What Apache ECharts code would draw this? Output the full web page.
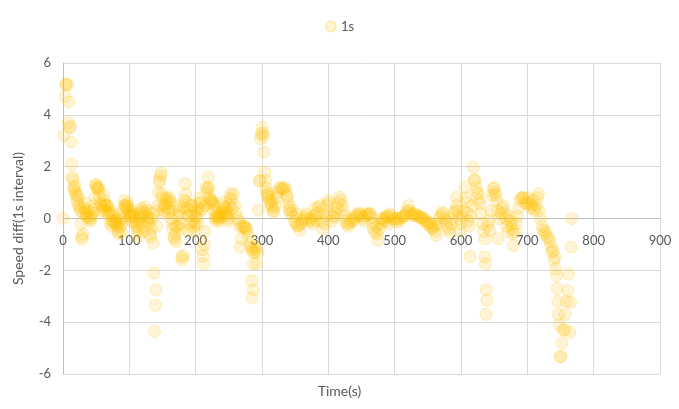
<!DOCTYPE html>
<html>
<head>
<meta charset="utf-8">
<script src="https://cdn.jsdelivr.net/npm/echarts@6/dist/echarts.min.js"></script>
<style>html,body{margin:0;padding:0;background:#fff}#c{width:679px;height:409px}</style>
</head>
<body>
<div id="c"></div>
<script>
const seriesName = '1s';
const xAxisTitle = 'Time(s)';
const yAxisTitle = 'Speed diff(1s interval)';
const xTicks = [0, 100, 200, 300, 400, 500, 600, 700, 800, 900];
const yTicks = [-6, -4, -2, 0, 2, 4, 6];
// [time (s), speed diff]
const points1s = [
[0,0],[1,3.2],[3,4.7],[4,5.15],[5,5.2],[7,5.15],[8,3.7],[9,4.5],[10,3.5],[11,3.55],[12,2.95],[13,2.1],[14,1.6],[15,1.5],[16,1.2],[17,1.1],[18,1.25],[19,1.0],[20,0.9],[21,0.75],[22,0.6],[23,0.85],[24,0.5],[25,0.4],[26,0.3],[27,-0.2],[28,-0.7],[29,-0.8],[30,-0.6],[31,0.2],[32,0.4],[33,0.6],[34,0.3],[35,0.1],[36,0.2],[37,0.05],[38,0.3],[40,0.0],[41,-0.1],[42,0.1],[43,0],[45,0.2],[46,0.5],[47,0.35],[48,0.8],[49,1.3],[50,1.3],[51,1.2],[52,1.15],[53,1.2],[54,1.1],[55,0.85],[56,0.6],[57,0.5],[58,0.3],[60,0.45],[61,0.9],[62,0.7],[63,0.5],[64,0.3],[65,0.5],[66,0.5],[67,0.5],[68,0.2],[69,0.1],[70,0.3],[71,0.2],[72,-0.2],[73,-0.3],[74,-0.1],[75,0.2],[76,0.1],[77,-0.15],[78,-0.2],[79,-0.1],[80,-0.05],[81,-0.2],[82,-0.3],[83,-0.5],[84,-0.6],[85,-0.35],[86,-0.1],[87,0.05],[88,-0.53],[89,-0.2],[90,0],[91,0.3],[92,0.5],[93,0.7],[94,0.5],[95,0.4],[96,0.5],[97,0.6],[98,0.45],[99,0.3],
[100,0.2],[101,0.1],[102,0.05],[103,-0.1],[104,0.15],[105,0.3],[106,0.2],[107,0.1],[108,0.05],[109,-0.2],[110,-0.1],[111,-0.3],[112,-0.5],[113,-0.7],[114,-0.4],[115,-0.2],[116,0],[117,0.2],[118,0.4],[119,0.3],[120,0.1],[121,-0.3],[122,-0.5],[123,0.2],[124,0.45],[125,0.3],[126,0.1],[127,0],[128,-0.1],[129,0.05],[130,-0.2],[131,-0.6],[132,-0.7],[133,-0.4],[134,0],[135,0.2],[136,-0.95],[137,-2.1],[138,-4.35],[139,-3.35],[140,-2.75],[141,-0.3],[142,0.3],[143,0.5],[144,1.0],[145,1.4],[146,1.5],[147,1.65],[148,1.75],[149,0.95],[150,0.8],[151,0.5],[152,0.3],[153,0.2],[154,0.5],[155,0.7],[156,0.8],[157,0.6],[158,0.4],[159,0.25],[160,0.7],[161,0.8],[162,0.6],[163,0.3],[164,0.0],[165,-0.2],[166,-0.4],[167,-0.7],[168,-0.8],[169,-0.6],[170,-0.3],[171,-0.9],[172,-0.3],[173,0.1],[174,0.3],[175,0.5],[176,0.2],[177,-0.2],[178,-0.4],[179,-1.5],[180,-1.6],[181,-1.43],[182,0.45],[183,0.7],[184,1.35],[185,0.95],[186,0.65],[187,0.4],[188,0.1],[189,-0.46],[190,-0.2],[191,0.1],[192,0.3],[193,0.5],[194,0.5],[195,0.2],[196,-0.1],[197,-0.3],[198,-0.5],[199,-0.2],
[200,0.1],[201,0.3],[202,0.05],[203,-0.2],[204,0.4],[205,0.6],[206,0.8],[207,0.6],[208,0.3],[209,0.37],[210,-1.2],[211,-1.45],[212,-1.75],[213,-1.0],[214,-0.5],[215,0.5],[216,1.2],[217,1.0],[218,1.15],[219,1.6],[220,1.2],[221,0.8],[222,0.6],[223,0.7],[224,0.7],[225,0.65],[226,0.6],[227,0.5],[228,0.3],[229,0.1],[230,0],[231,-0.1],[232,0.05],[233,0.2],[234,0.1],[235,0],[236,-0.1],[237,0.05],[238,0.2],[239,0.1],[240,0.3],[241,0.5],[242,0.63],[243,0.4],[244,0.2],[245,0.4],[246,0.2],[247,0.1],[248,0.0],[249,-0.1],[250,0.2],[251,0.5],[252,0.8],[253,0.95],[254,0.7],
[255,0.4],[257,0.95],[259,0.5],[261,0.2],[263,0.0],[265,-0.1],[267,-0.33],[267,-1.1],[269,-0.78],[270,-0.3],[272,-0.33],[274,-0.3],[275,-0.35],[276,-0.4],[278,-0.5],[280,-0.7],[282,-0.98],[284,-1.1],[284.5,-2.4],[285,-1.2],[286,-1.3],[287,-2.75],[285,-3.06],[287,-1.75],[289,-1.3],[290,-1.2],[291,-1.1],[292,-1.75],[294,-1.3],[294.5,0.33],[296,1.45],[297,1.47],[298,3.08],[299,3.27],[300,3.53],[301,3.3],[302,3.17],[303,2.56],[304,1.79],[305,1.47],[306,1.2],[307,1.0],[308,0.9],[309,0.82],[310,0.95],[311,0.7],[312,0.6],[314,0.5],[315,0.7],[316,0.4],[317,0.24],[318,0.3],[320,0.5],[322,0.8],[324,1.0],[326,1.15],[328,1.2],[330,1.15],[332,1.15],[334,1.2],[336,1.1],[337,0.9],[338,0.82],[340,0.6],[341,0.33],[342,0.44],[343,0.2],[345,0.3],[347,0.1],[349,-0.1],[351,-0.2],[352,0.18],[354,-0.27],[355,-0.3],[357,-0.46],[359,-0.2],[361,-0.1],[363,0.0],[365,0.1],[367,0.18],[369,0.0],[371,-0.1],[373,0.0],[375,-0.1],[377,-0.2],[379,0.1],[380,0.4],[382,-0.08],[383,0.2],[385,0.44],[386,0.2],[388,0.5],[390,-0.1],[392,-0.4],[394,-0.2],[396,0.1],[398,0.5],
[400,0.7],[401,0.6],[403,0.2],[405,-0.1],[407,0.1],[409,0.05],[411,0.2],[413,0.4],[415,0.6],[417,0.82],[419,0.7],[421,0.5],[422,0.31],[424,0.1],[426,-0.1],[428,-0.2],[430,-0.3],[432,-0.2],[434,-0.1],[436,0.0],[438,-0.1],[440,0.05],[442,0.15],[444,0.1],[446,0.2],[448,0.18],[450,0.1],[452,0.0],[454,-0.1],[456,0.1],[458,0.2],[460,0.15],[462,0.18],[463,0.18],[465,0.05],[467,-0.2],[468,-0.4],[470,-0.53],[472,-0.3],[474,-0.6],[475,-0.85],[477,-0.4],[479,-0.2],[480,0],[481,-0.1],[483,0],[485,-0.1],[487,0.05],[488,0.12],[490,0.05],[491,-0.2],[493,0.18],[495,0.1],[497,0],[499,-0.05],
[501,0],[503,-0.14],[505,0.0],[507,-0.1],[509,0.0],[511,0.05],[513,0.1],[515,0.1],[517,0.2],[519,0.3],[520.6,0.5],[522,0.3],[524,0.2],[526,0.15],[528,0.12],[530,0.2],[532,0.15],[534,0.1],[536,0.1],[538,0.05],[540,0.0],[542,0.05],[543,0],[545,-0.1],[547,-0.05],[549,-0.2],[551,-0.15],[553,-0.3],[555,-0.2],[556,-0.35],[558,-0.4],[560,-0.3],[561,-0.5],[563,-0.66],[565,-0.2],[567,0.0],[569,0.1],[571,0.25],[573,0.18],[575,0.0],[577,-0.1],[579,-0.3],[581,-0.4],[583,-0.53],[585,-0.2],[587,0.0],[589,0.2],[591,0.3],[593.5,0.5],[593.5,0.82],[595,0.3],[597,0.0],[598.5,-0.46],
[600,-0.2],[602,0.1],[604,0.3],[606,1.21],[607,0.8],[608.6,0.63],[610,0.2],[611,-0.1],[612,-0.3],[613.6,-1.47],[615,0.1],[617,0.5],[618.6,1.98],[620,1.5],[621,1.47],[623,1.2],[624,1.0],[626,0.95],[627,0.7],[628.7,0.57],[630,0.2],[632,-0.2],[634,-0.5],[636,-0.78],[636,-1.49],[637,-1.75],[638,-2.75],[639,-3.15],[638,-3.7],[640,-0.3],[642,-0.1],[643.7,-0.46],[645,0.3],[647,0.9],[648.7,1.15],[650,1.2],[651,1.0],[652,0.9],[653.8,0.7],[655,0.3],[656,-0.78],[658,0.0],[660,0.2],[662,0.4],[663.8,0.5],[665,0.2],[667,0.0],[669,-0.3],[671,-0.5],[672,0.1],[674,-0.08],[676,-0.2],[677,-0.4],[679,-0.59],[679,-1.04],[681,-0.5],[683,-0.2],[685,0.1],[687,0.4],[689,0.7],[691,0.8],[693,0.8],[695,0.8],[697,0.6],[699,0.57],
[701,0.8],[703,0.6],[705,0.4],[707,0.5],[709,0.7],[710,0.4],[711.6,0.31],[713,0.5],[715,0.8],[716.6,0.95],[718,0.3],[720,0.0],[722,-0.3],[724,-0.46],[726,-0.6],[728,-0.5],[730,-0.7],[732,-0.78],[734,-0.9],[736,-1.1],[737,-1.3],[739,-1.24],[740,-1.6],[741.7,-1.49],[743,-1.94],[744,-2.2],[745,-2.7],[746,-3.2],[747,-3.7],[748,-4.1],[749,-5.33],[751,-5.33],[752,-4.8],[754,-4.3],[756,-4.3],[757,-3.7],[759,-3.2],[761,-2.78],[762,-2.14],[764,-4.39],[765,-3.23],[766,-1.1],[767,0.0]
];

const chart = echarts.init(document.getElementById('c'), null, {renderer: 'canvas'});
const font = 'Lato, "Open Sans", sans-serif';
const gridTop = 63, gridBottom = 35, chartH = 409;
const plotH = chartH - gridTop - gridBottom;
chart.setOption({
  animation: false,
  backgroundColor: '#fff',
  textStyle: {fontFamily: font},
  legend: {
    top: 15, left: 'center',
    itemWidth: 10, itemHeight: 10, itemGap: 6,
    icon: 'circle',
    textStyle: {color: '#595959', fontSize: 13, fontFamily: font},
    data: [seriesName]
  },
  grid: {left: 63, right: 19, top: gridTop, bottom: gridBottom, containLabel: false},
  graphic: [{
    type: 'text', left: 'center', top: 384,
    style: {text: xAxisTitle, fill: '#595959', font: '14px ' + font}
  }],
  xAxis: {
    type: 'value', min: xTicks[0], max: xTicks[xTicks.length - 1], interval: 100,
    position: 'bottom',
    offset: -plotH / 2,
    axisLine: {onZero: false, lineStyle: {color: '#BFBFBF', width: 1}},
    axisTick: {show: false},
    axisLabel: {color: '#595959', fontSize: 13, margin: 16, fontFamily: font},
    splitLine: {show: true, lineStyle: {color: '#D9D9D9', width: 1}}
  },
  yAxis: {
    type: 'value', min: yTicks[0], max: yTicks[yTicks.length - 1], interval: 2,
    name: yAxisTitle, nameLocation: 'middle', nameGap: 38,
    nameTextStyle: {color: '#595959', fontSize: 14, fontFamily: font},
    axisLine: {show: true, lineStyle: {color: '#BFBFBF', width: 1}},
    axisTick: {show: false},
    axisLabel: {color: '#595959', fontSize: 13, margin: 12, fontFamily: font},
    splitLine: {show: true, lineStyle: {color: '#D9D9D9', width: 1}}
  },
  series: [{
    name: seriesName,
    type: 'scatter',
    symbol: 'circle',
    symbolSize: 12,
    data: points1s,
    itemStyle: {color: 'rgba(255,192,0,0.2)', borderColor: 'rgba(255,192,0,0.32)', borderWidth: 1}
  }]
});
</script>
</body>
</html>
